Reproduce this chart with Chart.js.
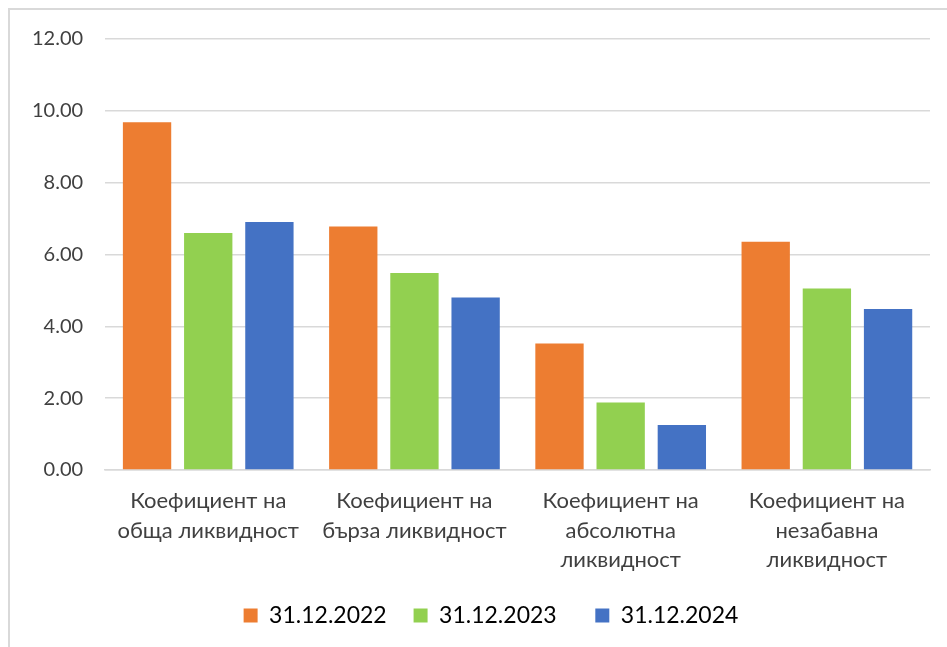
<!DOCTYPE html>
<html>
<head>
<meta charset="utf-8">
<script src="https://cdn.jsdelivr.net/npm/chart.js@4/dist/chart.umd.min.js"></script>
<style>
  html, body { margin: 0; padding: 0; background: #fff; overflow: hidden; }
  #frame {
    position: absolute; left: 8px; top: 8px; width: 939px; height: 639px;
    border-top: 2px solid #d9d9d9; border-left: 2px solid #d9d9d9; box-sizing: border-box;
  }
  #wrap { position: absolute; left: 0; top: -5px; width: 937px; height: 642px; }
</style>
</head>
<body>
<div id="frame"><div id="wrap"><canvas id="liquidity"></canvas></div></div>
<script>
    // категории и стойности
    const categories = [
        ['Коефициент на', 'обща ликвидност'],
        ['Коефициент на', 'бърза ликвидност'],
        ['Коефициент на', 'абсолютна', 'ликвидност'],
        ['Коефициент на', 'незабавна', 'ликвидност']
    ];
    const seriesNames = ['31.12.2022', '31.12.2023', '31.12.2024'];
    const values2022 = [9.68, 6.78, 3.52, 6.35];
    const values2023 = [6.60, 5.48, 1.88, 5.05];
    const values2024 = [6.90, 4.80, 1.25, 4.48];
    const colors = ['#ED7D31', '#92D050', '#4472C4'];
    const legendGap = [' ', '   ', ''];

    // легендата е малко вдясно от центъра на платното
    const legendShift = {
        id: 'legendShift',
        afterLayout(chart) {
            chart.legend.left += 21;
            chart.legend.right += 21;
        }
    };

    const ctx = document.getElementById('liquidity').getContext('2d');
    const chart = new Chart(ctx, {
        type: 'bar',
        data: {
            labels: categories,
            datasets: [values2022, values2023, values2024].map(function(v, i) {
                return {
                    label: seriesNames[i],
                    data: v,
                    backgroundColor: colors[i],
                    categoryPercentage: 0.89,
                    barPercentage: 0.79
                };
            })
        },
        plugins: [legendShift],
        options: {
            responsive: true,
            maintainAspectRatio: false,
            animation: false,
            layout: { padding: { left: 0, right: 17, top: 1, bottom: 10 } },
            plugins: {
                legend: {
                    position: 'bottom',
                    labels: {
                        boxWidth: 14,
                        boxHeight: 14,
                        padding: 21,
                        color: '#000',
                        font: { family: 'Lato', size: 23 },
                        generateLabels: function(chart) {
                            const items = Chart.defaults.plugins.legend.labels.generateLabels(chart);
                            items.forEach(function(it, i) { it.text = it.text + legendGap[i]; });
                            return items;
                        }
                    }
                },
                tooltip: { enabled: false }
            },
            scales: {
                y: {
                    min: 0,
                    max: 12,
                    ticks: {
                        stepSize: 2,
                        padding: 22,
                        color: '#404040',
                        font: { family: 'Lato', size: 20 },
                        callback: function(v) { return v.toFixed(2); }
                    },
                    grid: { color: '#d9d9d9', lineWidth: 1.5, drawTicks: false },
                    border: { display: false }
                },
                x: {
                    ticks: {
                        maxRotation: 0,
                        minRotation: 0,
                        padding: 9,
                        color: '#404040',
                        font: { family: 'Lato', size: 22, lineHeight: 1.32 }
                    },
                    grid: { display: false },
                    border: { color: '#d9d9d9', width: 1.5 }
                }
            }
        }
    });
</script>
</body>
</html>
